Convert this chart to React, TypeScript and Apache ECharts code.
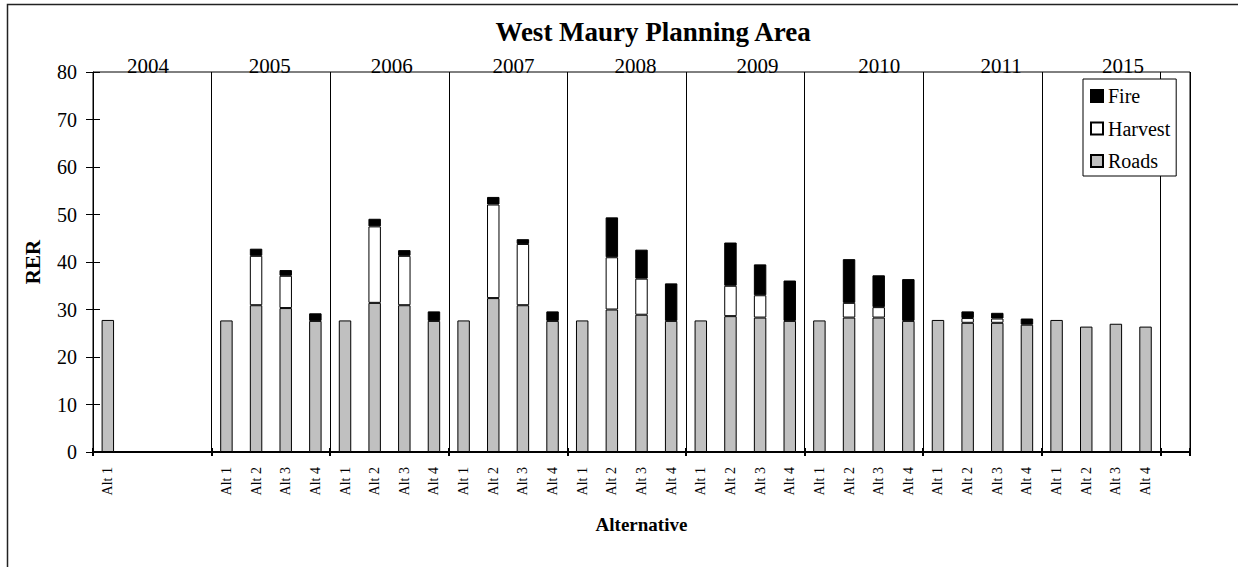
import React, { useEffect, useRef } from "react";
import * as echarts from "echarts";

const FONT = "Liberation Serif";

const years = ["2004", "2005", "2006", "2007", "2008", "2009", "2010", "2011", "2015"];

const categories = [
  "Alt 1", "", "", "",
  "Alt 1", "Alt 2", "Alt 3", "Alt 4",
  "Alt 1", "Alt 2", "Alt 3", "Alt 4",
  "Alt 1", "Alt 2", "Alt 3", "Alt 4",
  "Alt 1", "Alt 2", "Alt 3", "Alt 4",
  "Alt 1", "Alt 2", "Alt 3", "Alt 4",
  "Alt 1", "Alt 2", "Alt 3", "Alt 4",
  "Alt 1", "Alt 2", "Alt 3", "Alt 4",
  "Alt 1", "Alt 2", "Alt 3", "Alt 4",
  "",
];

const roads = [
  27.8, null, null, null,
  27.7, 30.9, 30.3, 27.6,
  27.7, 31.4, 30.9, 27.6,
  27.7, 32.4, 30.9, 27.6,
  27.7, 30.0, 28.9, 27.6,
  27.7, 28.6, 28.3, 27.6,
  27.7, 28.3, 28.3, 27.6,
  27.8, 27.2, 27.2, 26.8,
  27.8, 26.4, 27.0, 26.4,
  null,
];

const harvest = [
  null, null, null, null,
  null, 10.4, 6.8, null,
  null, 16.1, 10.4, null,
  null, 19.7, 12.9, null,
  null, 11.0, 7.6, null,
  null, 6.4, 4.7, null,
  null, 3.1, 2.2, null,
  null, 1.0, 0.9, null,
  null, null, null, null,
  null,
];

const fire = [
  null, null, null, null,
  null, 1.5, 1.2, 1.6,
  null, 1.6, 1.2, 2.0,
  null, 1.6, 1.0, 2.0,
  null, 8.4, 6.1, 7.9,
  null, 9.1, 6.5, 8.5,
  null, 9.2, 6.7, 8.8,
  null, 1.4, 1.2, 1.3,
  null, null, null, null,
  null,
];

const groupBoundary = (i: number) => i % 4 === 0;

export default function App() {
  const ref = useRef<HTMLDivElement>(null);

  useEffect(() => {
    if (!ref.current) return;
    const chart = echarts.init(ref.current, null, { renderer: "svg" });

    const barStyle = (color: string) => ({
      color,
      borderColor: "#000",
      borderWidth: 1,
    });

    chart.setOption({
      animation: false,
      textStyle: { fontFamily: FONT, color: "#000" },
      title: {
        text: "West Maury Planning Area",
        left: 648,
        top: 13,
        textAlign: "center",
        textStyle: { fontFamily: FONT, fontWeight: "bold", fontSize: 27, color: "#000" },
      },
      legend: {
        data: ["Fire", "Harvest", "Roads"],
        orient: "vertical",
        left: 1083,
        top: 79,
        itemWidth: 12,
        itemHeight: 12,
        itemGap: 12.5,
        padding: [7, 6, 5, 7],
        backgroundColor: "#fff",
        borderColor: "#000",
        borderWidth: 1,
        borderRadius: 0,
        icon: "rect",
        textStyle: { fontFamily: FONT, fontSize: 20, color: "#000", lineHeight: 20 },
      },
      grid: {
        left: 93,
        right: 48,
        top: 72,
        bottom: 115,
        show: true,
        borderColor: "#000",
        borderWidth: 1,
        backgroundColor: "transparent",
      },
      graphic: [
        {
          type: "rect",
          silent: true,
          z: -10,
          shape: { x: 7.5, y: 4.5, width: 1400, height: 800 },
          style: { fill: "none", stroke: "#222", lineWidth: 1.5 },
        },
      ],
      xAxis: [
        {
          type: "category",
          data: categories,
          position: "bottom",
          boundaryGap: true,
          axisLine: { show: true, lineStyle: { color: "#000", width: 2 } },
          axisTick: { show: true, interval: groupBoundary, length: 4, lineStyle: { color: "#000", width: 2 } },
          axisLabel: { interval: 0, rotate: 90, fontSize: 14, margin: 15, color: "#000", fontFamily: FONT },
          splitLine: { show: true, interval: groupBoundary, lineStyle: { color: "#000", width: 1 } },
          name: "Alternative",
          nameLocation: "middle",
          nameGap: 63,
          nameTextStyle: { fontFamily: FONT, fontWeight: "bold", fontSize: 19, color: "#000" },
        },
        {
          type: "category",
          data: categories,
          position: "bottom",
          boundaryGap: true,
          axisLine: { show: false },
          axisTick: { show: true, inside: true, interval: groupBoundary, length: 4, lineStyle: { color: "#000", width: 2 } },
          axisLabel: { show: false },
          splitLine: { show: false },
        },
        {
          type: "category",
          data: years,
          position: "top",
          boundaryGap: true,
          axisLine: { show: false },
          axisTick: { show: false },
          axisLabel: { interval: 0, fontSize: 21, margin: -4, padding: [0, 12, 0, 0], color: "#000", fontFamily: FONT },
          splitLine: { show: false },
        },
      ],
      yAxis: [
        {
          type: "value",
          min: 0,
          max: 80,
          interval: 10,
          position: "left",
          axisLine: { show: true, lineStyle: { color: "#000", width: 1 } },
          axisTick: { show: true, length: 7, lineStyle: { color: "#000", width: 1 } },
          axisLabel: { fontSize: 20, margin: 16, color: "#000", fontFamily: FONT },
          splitLine: { show: false },
          name: "RER",
          nameLocation: "middle",
          nameGap: 50,
          nameRotate: 90,
          nameTextStyle: { fontFamily: FONT, fontWeight: "bold", fontSize: 21, color: "#000" },
        },
        {
          type: "value",
          min: 0,
          max: 80,
          interval: 10,
          position: "left",
          axisLine: { show: false },
          axisTick: { show: true, inside: true, length: 7, lineStyle: { color: "#000", width: 1 } },
          axisLabel: { show: false },
          splitLine: { show: false },
        },
      ],
      series: [
        {
          name: "Roads",
          type: "bar",
          stack: "total",
          xAxisIndex: 0,
          yAxisIndex: 0,
          barWidth: "42%",
          data: roads,
          itemStyle: barStyle("#C0C0C0"),
        },
        {
          name: "Harvest",
          type: "bar",
          stack: "total",
          xAxisIndex: 0,
          yAxisIndex: 0,
          barWidth: "42%",
          data: harvest,
          itemStyle: barStyle("#FFFFFF"),
        },
        {
          name: "Fire",
          type: "bar",
          stack: "total",
          xAxisIndex: 0,
          yAxisIndex: 0,
          barWidth: "42%",
          data: fire,
          itemStyle: barStyle("#000000"),
        },
      ],
    });

    return () => chart.dispose();
  }, []);

  return (
    <div
      ref={ref}
      style={{ position: "fixed", left: 0, top: 0, width: 1238, height: 567, background: "#fff" }}
    />
  );
}
